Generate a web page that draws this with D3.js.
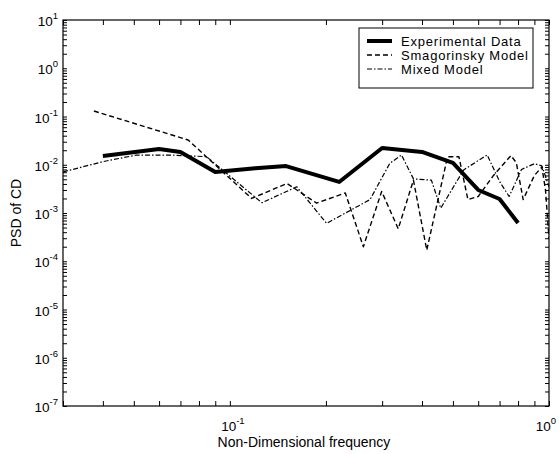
<!DOCTYPE html>
<html lang="en">
<head>
<meta charset="UTF-8">
<title>PSD of CD</title>
<script src="https://d3js.org/d3.v7.min.js"></script>
<style>
    body { margin: 0; background: #fff; font-family: 'Liberation Sans', Arial, sans-serif; }
    .tick line { stroke: #000; }
    .lbl { font-size: 13.5px; fill: #000; }
    .legend text { font-size: 13px; letter-spacing: 0.8px; }
</style>
</head>
<body>
<svg id="chart"></svg>
<script>
// experimental data (thick solid)
const expFreq = [0.04, 0.06, 0.07, 0.09, 0.12, 0.15, 0.22, 0.3, 0.4, 0.5, 0.6, 0.7, 0.8];
const expPSD  = [0.0152, 0.0212, 0.0184, 0.0071, 0.0085, 0.0094, 0.0044, 0.0222, 0.0184, 0.0109, 0.0030, 0.00195, 0.00062];

// Smagorinsky model (dashed)
const smagFreq = [0.0375, 0.074, 0.117, 0.151, 0.187, 0.23, 0.262, 0.299, 0.337, 0.376, 0.414, 0.481, 0.522, 0.557,
                  0.6, 0.67, 0.76, 0.79, 0.83, 0.9, 0.95, 0.975, 1.0];
const smagPSD  = [0.13, 0.0326, 0.0020, 0.0041, 0.0016, 0.0026, 0.0002, 0.0028, 0.00047, 0.0048, 0.00017, 0.0147, 0.0147, 0.0019,
                  0.0022, 0.006, 0.0155, 0.011, 0.0019, 0.006, 0.009, 0.003, 0.0003];

// Mixed model (dash-dot)
const mixFreq = [0.03, 0.04, 0.051, 0.065, 0.0845, 0.126, 0.162, 0.201, 0.275, 0.317, 0.345, 0.376, 0.428, 0.458,
                 0.54, 0.64, 0.70, 0.75, 0.82, 0.9, 0.95, 1.0];
const mixPSD  = [0.0071, 0.0116, 0.0159, 0.0159, 0.0147, 0.00163, 0.0035, 0.00061, 0.0019, 0.0107, 0.0159, 0.0051, 0.0048, 0.00126,
                 0.0078, 0.016, 0.0045, 0.0022, 0.008, 0.0105, 0.0095, 0.0035];

const seriesNames = ["Experimental Data", "Smagorinsky Model", "Mixed Model"];
const xMajor = [0.1, 1];
const yMajor = [1e-7, 1e-6, 1e-5, 1e-4, 1e-3, 1e-2, 1e-1, 1, 10];

const W = 559, H = 454;
const pLeft = 63, pRight = 549, pTop = 20, pBottom = 406;

const svg = d3.select("#chart").attr("width", W).attr("height", H);

const x = d3.scaleLog().domain([0.03, 1]).range([pLeft, pRight]);
const y = d3.scaleLog().domain([1e-7, 10]).range([pBottom, pTop]);

// minor ticks from the scales
const xTicks = x.ticks();
const yTicks = y.ticks();

// axes with inward ticks on all four sides
svg.append("g").attr("class", "axis")
    .attr("transform", `translate(0,${pBottom})`)
    .call(d3.axisBottom(x).tickValues(xTicks).tickSize(-5).tickFormat(""));
svg.append("g").attr("class", "axis")
    .attr("transform", `translate(0,${pTop})`)
    .call(d3.axisTop(x).tickValues(xTicks).tickSize(-5).tickFormat(""));
svg.append("g").attr("class", "axis")
    .attr("transform", `translate(${pLeft},0)`)
    .call(d3.axisLeft(y).tickValues(yTicks).tickSize(-4).tickFormat(""));
svg.append("g").attr("class", "axis")
    .attr("transform", `translate(${pRight},0)`)
    .call(d3.axisRight(y).tickValues(yTicks).tickSize(-4).tickFormat(""));
svg.selectAll(".axis .domain").remove();

svg.append("rect")
    .attr("x", pLeft).attr("y", pTop)
    .attr("width", pRight - pLeft).attr("height", pBottom - pTop)
    .attr("fill", "none").attr("stroke", "#000").attr("stroke-width", 1.2);

// tick labels 10^n
function powLabel(sel, e) {
    sel.append("tspan").text("10");
    sel.append("tspan").attr("dy", -7).style("font-size", "9.5px").text(e);
}
yMajor.forEach(v => {
    const t = svg.append("text").attr("class", "lbl")
        .attr("x", pLeft - 5).attr("y", y(v) + 6)
        .attr("text-anchor", "end");
    powLabel(t, Math.round(Math.log10(v)));
});
xMajor.forEach(v => {
    const t = svg.append("text").attr("class", "lbl")
        .attr("x", x(v) + (v === 1 ? -3 : 3)).attr("y", pBottom + 25)
        .attr("text-anchor", "middle");
    powLabel(t, Math.round(Math.log10(v)));
});

// axis titles
svg.append("text").attr("class", "lbl")
    .attr("x", 304).attr("y", 447)
    .attr("text-anchor", "middle").style("font-size", "14px")
    .text("Non-Dimensional frequency");
svg.append("text").attr("class", "lbl")
    .attr("transform", `translate(21,${(pTop + pBottom) / 2}) rotate(-90)`)
    .attr("text-anchor", "middle").style("font-size", "14px")
    .text("PSD of CD");

// lines
const line = d3.line().x(d => x(d[0])).y(d => y(d[1]));
svg.append("clipPath").attr("id", "clip").append("rect")
    .attr("x", pLeft).attr("y", pTop).attr("width", pRight - pLeft).attr("height", pBottom - pTop);
const plot = svg.append("g").attr("clip-path", "url(#clip)");

const styles = [
    { width: 4, dash: null },
    { width: 1.4, dash: "5,3" },
    { width: 1.2, dash: "5,2,1.5,2" }
];
const data = [
    d3.zip(expFreq, expPSD),
    d3.zip(smagFreq, smagPSD),
    d3.zip(mixFreq, mixPSD)
];
[2, 1, 0].forEach(i => {
    plot.append("path").datum(data[i])
        .attr("d", line)
        .attr("fill", "none").attr("stroke", "#000")
        .attr("stroke-width", styles[i].width)
        .attr("stroke-dasharray", styles[i].dash)
        .attr("stroke-linejoin", "round");
});

// legend
const lg = svg.append("g").attr("class", "legend");
lg.append("rect").attr("x", 359).attr("y", 28).attr("width", 174).attr("height", 60)
    .attr("fill", "#fff").attr("stroke", "#000").attr("stroke-width", 1);
seriesNames.forEach((name, i) => {
    const yy = 41 + i * 14;
    lg.append("line").attr("x1", 367).attr("x2", 392).attr("y1", yy).attr("y2", yy)
        .attr("stroke", "#000").attr("stroke-width", styles[i].width)
        .attr("stroke-dasharray", styles[i].dash);
    lg.append("text").attr("x", 401).attr("y", yy + 4.5).text(name);
});
</script>
</body>
</html>
